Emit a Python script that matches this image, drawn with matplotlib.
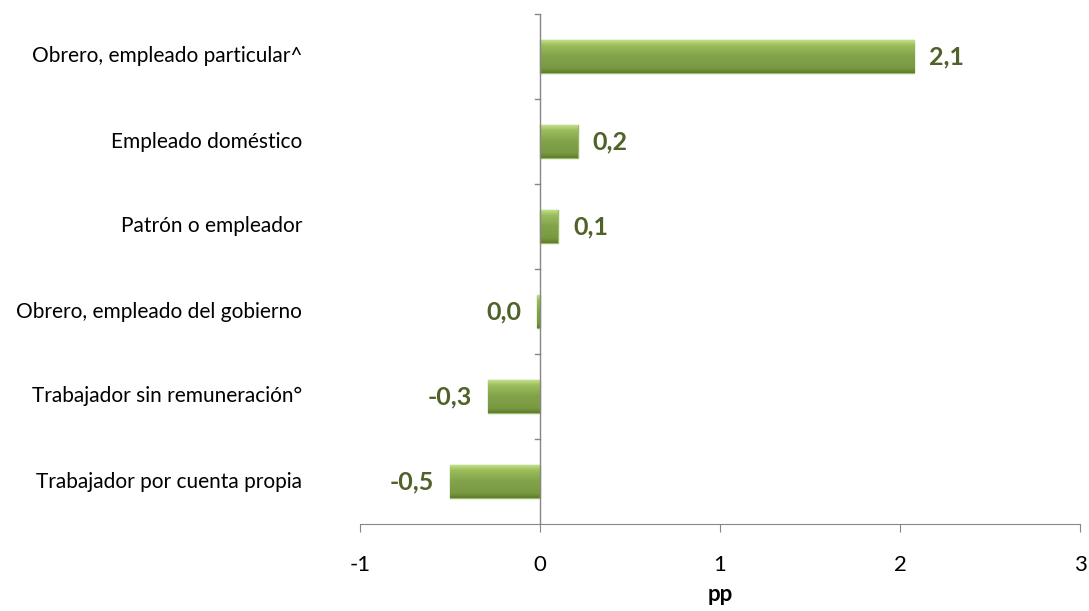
import numpy as np
import matplotlib
matplotlib.use("Agg")
import matplotlib.pyplot as plt
from matplotlib.colors import LinearSegmentedColormap

plt.rcParams['font.family'] = ['Lato', 'DejaVu Sans']

# data
categorias = ["Obrero, empleado particular^", "Empleado doméstico", "Patrón o empleador",
              "Obrero, empleado del gobierno", "Trabajador sin remuneración°",
              "Trabajador por cuenta propia"]
valores = [2.08, 0.21, 0.10, -0.015, -0.29, -0.50]
etiquetas = ["2,1", "0,2", "0,1", "0,0", "-0,3", "-0,5"]
x_ticks = [-1, 0, 1, 2, 3]

verde_txt = "#4F6228"
gris = "#868686"

fig = plt.figure(figsize=(10.89, 6.11), dpi=100)
ax = fig.add_axes([360/1089, 1-524/611, 720/1089, 510/611])

y = np.arange(len(categorias))[::-1] + 0.5
bars = ax.barh(y, valores, height=0.39, color="#84a448", edgecolor="#9dba66", linewidth=1.0, zorder=3)

# gradient fill to mimic the bevel look
grad = np.linspace(0, 1, 100).reshape(-1, 1)
cmap = LinearSegmentedColormap.from_list("bev", [(0, "#c8e68f"), (0.18, "#9cbd5c"),
                                                 (0.5, "#82a34a"), (0.85, "#7a9a42"), (1, "#5f7d2f")])
for b in bars:
    x0, y0, w, h = b.get_x(), b.get_y(), b.get_width(), b.get_height()
    im = ax.imshow(grad, extent=[x0, x0 + w, y0, y0 + h], aspect="auto", cmap=cmap,
                   origin="upper", zorder=3)
    im.set_clip_path(b)

ax.set_xlim(-1, 3)
ax.set_ylim(0, len(categorias))

# spines
for s in ["top", "right", "left"]:
    ax.spines[s].set_visible(False)
ax.spines["bottom"].set_color(gris)
ax.axvline(0, color=gris, linewidth=1.0, zorder=4)

ax.set_xticks(x_ticks)
ax.set_xticklabels([str(t) for t in x_ticks], fontsize=16)
ax.tick_params(axis="x", direction="out", length=6, color=gris, pad=16)
ax.set_yticks([])

# category boundary ticks on the zero axis
for yb in range(1, len(categorias) + 1):
    ax.plot([-0.03, 0], [yb, yb], color=gris, linewidth=1.0, clip_on=False, zorder=4)

# category labels on the left
for yi, cat in zip(y, categorias):
    ax.annotate(cat, xy=(0, yi), xycoords=("figure fraction", "data"), xytext=(302, 0),
                textcoords="offset pixels", ha="right", va="center", fontsize=15)

# value labels
for yi, v, lab in zip(y, valores, etiquetas):
    if v > 0:
        ax.annotate(lab, xy=(v, yi), xytext=(15, 0), textcoords="offset pixels",
                    ha="left", va="center", fontsize=18, fontweight="bold", color=verde_txt)
    else:
        ax.annotate(lab, xy=(v, yi), xytext=(-16, 0), textcoords="offset pixels",
                    ha="right", va="center", fontsize=18, fontweight="bold", color=verde_txt)

ax.set_xlabel("pp", fontsize=16, fontweight="bold", labelpad=7)

fig.savefig("out.png", dpi=100)
